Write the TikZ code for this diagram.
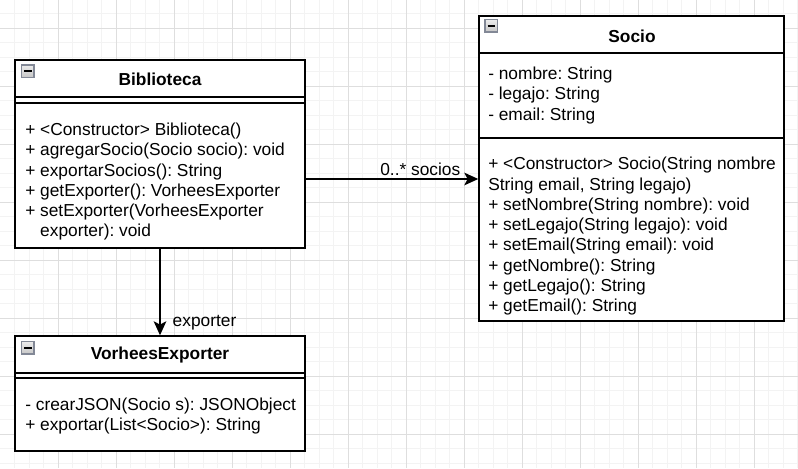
\documentclass[tikz,border=0pt]{standalone}
\usepackage{fontspec}
\setmainfont{Liberation Sans}
\usetikzlibrary{arrows.meta,fit}
\definecolor{gridminor}{RGB}{243,243,243}
\definecolor{gridmajor}{RGB}{222,222,222}
\definecolor{iconedge}{RGB}{130,136,150}

% small collapse button in the class header
\newcommand{\collapser}[2]{%
  \draw[iconedge, line width=0.9pt, top color=gray!15, bottom color=gray!45] (#1,#2) rectangle ++(12.5,12.5);
  \draw[line width=1.3pt] (#1+2.5,#2+6.25) -- ++(7.5,0);}

\begin{document}
\frenchspacing
\begin{tikzpicture}[x=0.75pt, y=-0.75pt, >={Stealth[length=10.5pt,width=9.5pt,inset=2.5pt]},
    font=\fontsize{13}{15}\selectfont,
    classbox/.style={draw, line width=1.1pt, inner sep=0pt, fill=white},
    member/.style={anchor=west, inner sep=0pt, yshift=-1.3pt},
    classname/.style={font=\fontsize{13}{15}\selectfont\bfseries},
    sep/.style={line width=1.1pt},
    assoc/.style={->, line width=1.1pt},
    edgelabel/.style={inner sep=0pt}]
    \useasboundingbox (0,0) rectangle (798,468);

    % Grid
    \foreach \i [evaluate=\i as \x using 14.5*\i] in {1,...,55}
        \draw[gridminor, line width=0.75pt] (\x,0) -- (\x,468);
    \foreach \i [evaluate=\i as \y using 13.5+14.5*\i] in {0,...,31}
        \draw[gridminor, line width=0.75pt] (0,\y) -- (798,\y);
    \foreach \i in {1,...,13}
        \draw[gridmajor, line width=0.75pt] (58*\i,0) -- (58*\i,468);
    \foreach \i in {0,...,7}
        \draw[gridmajor, line width=0.75pt] (0,28+58*\i) -- (798,28+58*\i);

    % Biblioteca
    \node[classbox, fit={(15,60) (305,248)}] (biblioteca) {};
    \draw[sep] (15,97) -- (305,97);
    \draw[sep] (15,103) -- (305,103);
    \collapser{21.5}{65}
    \node[classname] (bibname) at (160,79) {Biblioteca};
    \node[member] (bib1) at (25,129.5) {+ <Constructor> Biblioteca()};
    \node[member] (bib2) at (25,149.7) {+ agregarSocio(Socio socio): void};
    \node[member] (bib3) at (25,169.9) {+ exportarSocios(): String};
    \node[member] (bib4) at (25,190.1) {+ getExporter(): VorheesExporter};
    \node[member] (bib5) at (25,210.3) {+ setExporter(VorheesExporter};
    \node[member] (bib6) at (25,230.5) {\phantom{+ }exporter): void};

    % Socio
    \node[classbox, fit={(479,16) (784,321)}] (socio) {};
    \draw[sep] (479,53) -- (784,53);
    \draw[sep] (479,138) -- (784,138);
    \collapser{485}{19.5}
    \node[classname] (socname) at (632,36) {Socio};
    \node[member] (soc1) at (488,73.5) {- nombre: String};
    \node[member] (soc2) at (488,93.7) {- legajo: String};
    \node[member] (soc3) at (488,113.9) {- email: String};
    \node[member] (soc4) at (488,163.5) {+ <Constructor> Socio(String nombre};
    \node[member] (soc5) at (488,183.8) {String email, String legajo)};
    \node[member] (soc6) at (488,204.1) {+ setNombre(String nombre): void};
    \node[member] (soc7) at (488,224.4) {+ setLegajo(String legajo): void};
    \node[member] (soc8) at (488,244.7) {+ setEmail(String email): void};
    \node[member] (soc9) at (488,265) {+ getNombre(): String};
    \node[member] (soc10) at (488,285.3) {+ getLegajo(): String};
    \node[member] (soc11) at (488,305.6) {+ getEmail(): String};

    % VorheesExporter
    \node[classbox, fit={(15,336) (305,451)}] (exporter) {};
    \draw[sep] (15,373) -- (305,373);
    \draw[sep] (15,378) -- (305,378);
    \collapser{21.5}{341.5}
    \node[classname] (expname) at (160,355) {VorheesExporter};
    \node[member] (exp1) at (25,404) {- crearJSON(Socio s): JSONObject};
    \node[member] (exp2) at (25,424.2) {+ exportar(List<Socio>): String};

    % Associations
    \draw[assoc] (biblioteca.south) -- (exporter.north)
        node[edgelabel, pos=0.86, anchor=west, xshift=9pt] (explabel) {exporter};
    \draw[assoc] ([yshift=-18.75pt]biblioteca.east) coordinate (bibout)
        -- (bibout -| socio.west)
        node[edgelabel, pos=0.9, anchor=east, yshift=7.5pt] (soclabel) {0..* socios};
\end{tikzpicture}
\end{document}
